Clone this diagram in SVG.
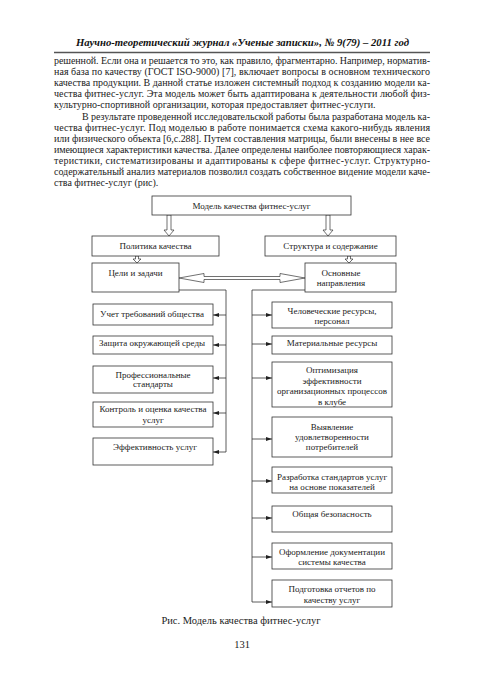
<svg xmlns="http://www.w3.org/2000/svg" width="484" height="688" viewBox="0 0 484 688">
<style>
.bg{fill:#fff}
.box{fill:#fff;stroke:#333;stroke-width:0.8}
.t{font-family:"Liberation Serif","Times New Roman",serif;font-size:9px;fill:#222;text-anchor:middle}
.body{font-family:"Liberation Serif","Times New Roman",serif;font-size:10px;fill:#222}
.cap{font-family:"Liberation Serif","Times New Roman",serif;font-size:10.5px;fill:#222;text-anchor:middle}
.hdr{font-family:"Liberation Serif","Times New Roman",serif;font-size:11px;font-weight:bold;font-style:italic;fill:#111;text-anchor:middle}
.conn{stroke:#333;stroke-width:0.8;fill:none}
.hol{fill:#fff;stroke:#333;stroke-width:0.7}
</style>
<defs>
<marker id="ah" viewBox="0 0 6 4" refX="6" refY="2" markerWidth="6" markerHeight="4" markerUnits="userSpaceOnUse" orient="auto">
<path d="M0,0 L6,2 L0,4 z" fill="#222"/>
</marker>
</defs>
<rect class="bg" x="0" y="0" width="484" height="688"/>

<g id="header">
<text class="hdr" x="242.5" y="45.5" textLength="333" lengthAdjust="spacingAndGlyphs">Научно-теоретический журнал «Ученые записки», № 9(79) – 2011 год</text>
<line x1="54" y1="52.5" x2="430" y2="52.5" stroke="#555" stroke-width="1.6"/>
</g>

<g id="bodytext">
<text class="body" x="54" y="64" textLength="376" lengthAdjust="spacing">решенной. Если она и решается то это, как правило, фрагментарно. Например, норматив-</text>
<text class="body" x="54" y="75.1" textLength="376" lengthAdjust="spacing">ная база по качеству (ГОСТ ISO-9000) [7], включает вопросы в основном технического</text>
<text class="body" x="54" y="86.2" textLength="376" lengthAdjust="spacing">качества продукции. В данной статье изложен системный подход к созданию модели ка-</text>
<text class="body" x="54" y="97.3" textLength="376" lengthAdjust="spacing">чества фитнес-услуг. Эта модель может быть адаптирована к деятельности любой физ-</text>
<text class="body" x="54" y="108.4">культурно-спортивной организации, которая предоставляет фитнес-услуги.</text>
<text class="body" x="82" y="119.5" textLength="348" lengthAdjust="spacing">В результате проведенной исследовательской работы была разработана модель ка-</text>
<text class="body" x="54" y="130.6" textLength="376" lengthAdjust="spacing">чества фитнес-услуг. Под моделью в работе понимается схема какого-нибудь явления</text>
<text class="body" x="54" y="141.7" textLength="376" lengthAdjust="spacing">или физического объекта [6,с.288]. Путем составления матрицы, были внесены в нее все</text>
<text class="body" x="54" y="152.8" textLength="376" lengthAdjust="spacing">имеющиеся характеристики качества. Далее определены наиболее повторяющиеся харак-</text>
<text class="body" x="54" y="163.9" textLength="376" lengthAdjust="spacing">теристики, систематизированы и адаптированы к сфере фитнес-услуг. Структурно-</text>
<text class="body" x="54" y="175" textLength="376" lengthAdjust="spacing">содержательный анализ материалов позволил создать собственное видение модели каче-</text>
<text class="body" x="54" y="186.1">ства фитнес-услуг (рис).</text>
</g>

<g id="connectors">
<polygon class="hol" points="167,215 171,215 171,230 174,230 169,236 164,230 167,230"/>
<polygon class="hol" points="326,215 330,215 330,230 333,230 328,236 323,230 326,230"/>
<polygon class="hol" points="135.5,256 138.5,256 138.5,259 141,259 137,263 133,259 135.5,259"/>
<polygon class="hol" points="347.5,256 350.5,256 350.5,259 353,259 349,263 345,259 347.5,259"/>
<polygon class="hol" points="179,278 204,273.5 204,276.5 280,276.5 280,273.5 305,278 280,282.5 280,279.5 204,279.5 204,282.5"/>
<path class="conn" d="M179,290 H226 V452 H213" marker-end="url(#ah)"/>
<path class="conn" d="M226,315 H213" marker-end="url(#ah)"/>
<path class="conn" d="M226,345 H213" marker-end="url(#ah)"/>
<path class="conn" d="M226,378 H213" marker-end="url(#ah)"/>
<path class="conn" d="M226,413 H213" marker-end="url(#ah)"/>
<path class="conn" d="M305,290 H252 V602 H272" marker-end="url(#ah)"/>
<path class="conn" d="M252,315 H272" marker-end="url(#ah)"/>
<path class="conn" d="M252,344 H272" marker-end="url(#ah)"/>
<path class="conn" d="M252,378 H272" marker-end="url(#ah)"/>
<path class="conn" d="M252,439 H272" marker-end="url(#ah)"/>
<path class="conn" d="M252,481 H272" marker-end="url(#ah)"/>
<path class="conn" d="M252,518 H272" marker-end="url(#ah)"/>
<path class="conn" d="M252,557 H272" marker-end="url(#ah)"/>
</g>

<g id="model">
<rect class="box" x="152" y="196" width="199" height="19"/>
<text class="t" x="251.5" y="209">Модель качества фитнес-услуг</text>
</g>
<g id="policy">
<rect class="box" x="92" y="236" width="127" height="20"/>
<text class="t" x="155.5" y="249">Политика качества</text>
</g>
<g id="structure">
<rect class="box" x="265" y="236" width="131" height="20"/>
<text class="t" x="330.5" y="249">Структура и содержание</text>
</g>
<g id="goals">
<rect class="box" x="92" y="263" width="87" height="29"/>
<text class="t" x="135.5" y="276">Цели и задачи</text>
</g>
<g id="directions">
<rect class="box" x="305" y="263" width="91" height="29"/>
<text class="t" x="341" y="276">Основные</text>
<text class="t" x="341" y="286">направления</text>
</g>

<g id="l1">
<rect class="box" x="93" y="304" width="120" height="21"/>
<text class="t" x="152" y="317">Учет требований общества</text>
</g>
<g id="l2">
<rect class="box" x="93" y="336" width="120" height="18"/>
<text class="t" x="152" y="346">Защита окружающей среды</text>
</g>
<g id="l3">
<rect class="box" x="93" y="366" width="120" height="27"/>
<text class="t" x="153" y="378">Профессиональные</text>
<text class="t" x="153" y="387">стандарты</text>
</g>
<g id="l4">
<rect class="box" x="93" y="402" width="120" height="25"/>
<text class="t" x="153" y="412">Контроль и оценка качества</text>
<text class="t" x="153" y="423">услуг</text>
</g>
<g id="l5">
<rect class="box" x="93" y="438" width="120" height="27"/>
<text class="t" x="155" y="450">Эффективность услуг</text>
</g>

<g id="r1">
<rect class="box" x="272" y="302" width="120" height="26"/>
<text class="t" x="332" y="314">Человеческие ресурсы,</text>
<text class="t" x="332" y="324">персонал</text>
</g>
<g id="r2">
<rect class="box" x="272" y="336" width="120" height="18"/>
<text class="t" x="332" y="346">Материальные ресурсы</text>
</g>
<g id="r3">
<rect class="box" x="272" y="362" width="120" height="45"/>
<text class="t" x="332" y="373">Оптимизация</text>
<text class="t" x="332" y="383.5">эффективности</text>
<text class="t" x="332" y="394">организационных процессов</text>
<text class="t" x="332" y="404.5">в клубе</text>
</g>
<g id="r4">
<rect class="box" x="272" y="417" width="120" height="40"/>
<text class="t" x="332" y="430">Выявление</text>
<text class="t" x="332" y="440">удовлетворенности</text>
<text class="t" x="332" y="450">потребителей</text>
</g>
<g id="r5">
<rect class="box" x="272" y="467" width="120" height="26"/>
<text class="t" x="332" y="480">Разработка стандартов услуг</text>
<text class="t" x="332" y="490">на основе показателей</text>
</g>
<g id="r6">
<rect class="box" x="272" y="506" width="120" height="26"/>
<text class="t" x="332" y="517">Общая безопасность</text>
</g>
<g id="r7">
<rect class="box" x="272" y="543" width="120" height="26"/>
<text class="t" x="332" y="555">Оформление документации</text>
<text class="t" x="332" y="565">системы качества</text>
</g>
<g id="r8">
<rect class="box" x="272" y="580" width="120" height="27"/>
<text class="t" x="332" y="592">Подготовка отчетов по</text>
<text class="t" x="332" y="603">качеству услуг</text>
</g>

<g id="caption">
<text class="cap" x="241" y="624">Рис. Модель качества фитнес-услуг</text>
<text class="cap" x="242" y="648">131</text>
</g>
</svg>
